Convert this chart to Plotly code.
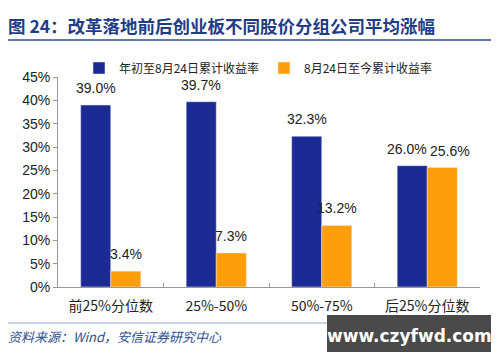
import plotly.graph_objects as go

categories = ["前25%分位数", "25%-50%", "50%-75%", "后25%分位数"]
series1_name = "年初至8月24日累计收益率"
series1 = [0.390, 0.397, 0.323, 0.260]
series2_name = "8月24日至今累计收益率"
series2 = [0.034, 0.073, 0.132, 0.256]
title_text = "图 24：改革落地前后创业板不同股价分组公司平均涨幅"
source_text = "资料来源：Wind，安信证券研究中心"
watermark = "www.czyfwd.com"

BLUE = "#1C2A94"
ORANGE = "#FF9E0B"
FONT = "Noto Sans CJK SC, Liberation Sans, sans-serif"
NUMFONT = "Liberation Sans, Arial, sans-serif"

O = 8  # page body margin offset

fig = go.Figure()
fig.add_trace(go.Bar(x=categories, y=series1, name=series1_name, marker_color=BLUE))
fig.add_trace(go.Bar(x=categories, y=series2, name=series2_name, marker_color=ORANGE))

L, R, T, B = 58 - O, 480 - O, 77 - O, 287 - O
W, H = 500 - O, 362 - O
pw, ph = R - L, B - T
def px(x): return (x - O - L) / pw
def py(y): return (B - (y - O)) / ph

BARGAP = 0.43
bar_px = pw / len(categories) * (1 - BARGAP) / 2

# value labels above bars, anchored to data through the axes
for i, (cat, a, b) in enumerate(zip(categories, series1, series2)):
    extra = (5, 8) if i == len(categories) - 1 else (0, 0)
    for v, sh in ((a, -bar_px / 2 - extra[0]), (b, bar_px / 2 + extra[1])):
        fig.add_annotation(x=cat, y=v, xref="x", yref="y", showarrow=False,
                           text=f"{v*100:.1f}%", xanchor="center", yanchor="bottom",
                           xshift=sh, yshift=7,
                           font=dict(size=14, color="#222", family=NUMFONT))

fig.update_layout(
    width=W, height=H,
    margin=dict(l=L, r=W - R, t=T, b=H - B),
    paper_bgcolor="white", plot_bgcolor="white",
    barmode="group", bargap=BARGAP, bargroupgap=0,
    font=dict(family=FONT, size=13, color="#222"),
    showlegend=True,
    legend=dict(orientation="h", x=px(258), xanchor="center", y=py(68), yanchor="middle",
                font=dict(size=12, color="#222"), itemwidth=30, traceorder="normal",
                bgcolor="rgba(0,0,0,0)"),
    xaxis=dict(showline=True, linecolor="#999", linewidth=1, ticks="inside",
               tickson="boundaries", ticklen=4, tickcolor="#999",
               tickfont=dict(size=14, color="#222"), ticklabelstandoff=6),
    yaxis=dict(range=[0, 0.45], dtick=0.05, tickformat=".0%", showgrid=False,
               zeroline=False, showline=True, linecolor="#999", linewidth=1,
               ticks="outside", ticklen=4, tickcolor="#999",
               tickfont=dict(size=14, color="#222", family=NUMFONT)),
)

fig.add_annotation(xref="paper", yref="paper", x=px(6), y=py(25), xanchor="left",
                   yanchor="middle", showarrow=False, text=f"<b>{title_text}</b>",
                   font=dict(size=17.5, color="#1F3C88", family=FONT))
fig.add_shape(type="line", xref="paper", yref="paper", x0=px(4), x1=px(491),
              y0=py(40), y1=py(40), line=dict(color="#2F4F8F", width=1.5))
fig.add_shape(type="line", xref="paper", yref="paper", x0=px(4), x1=px(491),
              y0=py(323), y1=py(323), line=dict(color="#8FA6C8", width=1))
fig.add_annotation(xref="paper", yref="paper", x=px(6), y=py(336), xanchor="left",
                   yanchor="middle", showarrow=False, text=f"<i>{source_text}</i>",
                   font=dict(size=13, color="#2F4F8F", family=FONT))
fig.add_shape(type="rect", xref="paper", yref="paper", x0=px(327), x1=px(491),
              y0=py(315), y1=py(352), fillcolor="#4A4A4A", line=dict(width=0),
              layer="above")
fig.add_annotation(xref="paper", yref="paper", x=px(409), y=py(336), xanchor="center",
                   yanchor="middle", showarrow=False, text=f"<b>{watermark}</b>",
                   font=dict(size=17, color="white", family="DejaVu Sans, sans-serif"))

fig.write_html("out.html")
